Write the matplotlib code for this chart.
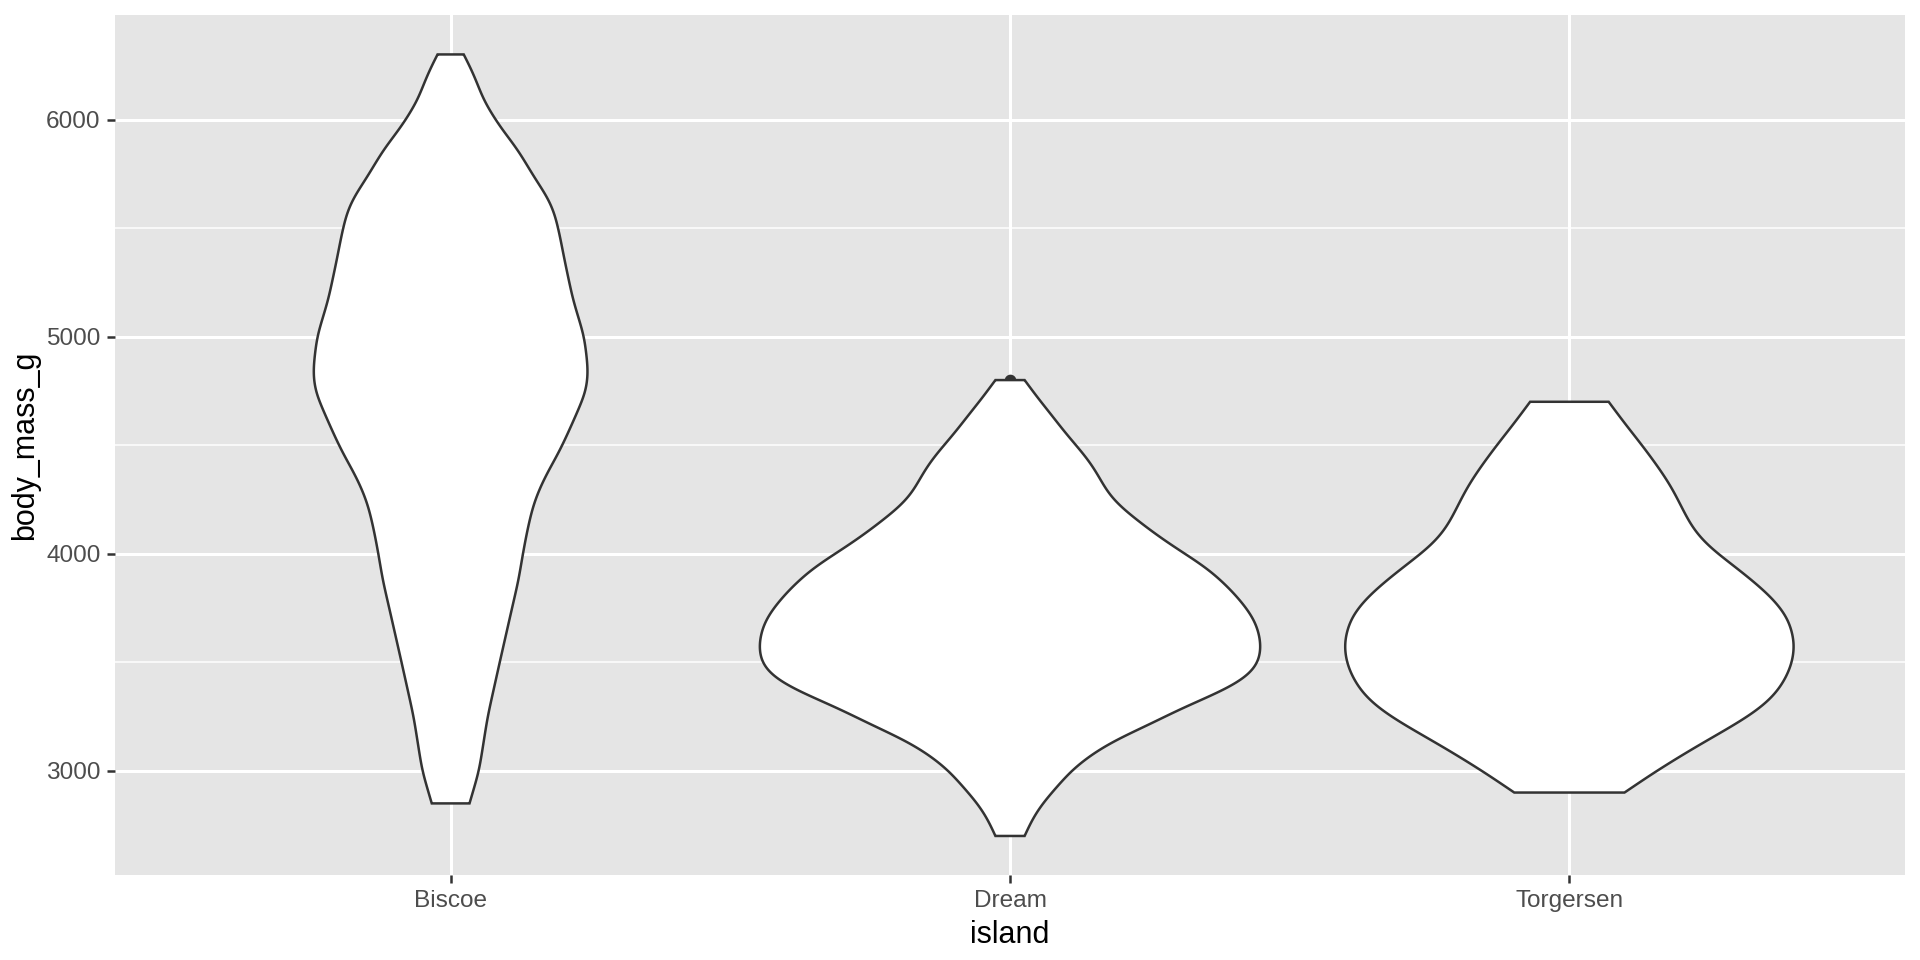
import numpy as np
import matplotlib.pyplot as plt

plt.rcParams['font.family'] = ['Liberation Sans', 'DejaVu Sans']

islands = ['Biscoe', 'Dream', 'Torgersen']

# violin outlines: mass (g) and relative density (Dream peak = 1)
biscoe_mass = [2850, 3000, 3250, 3500, 3750, 3880, 4000, 4110, 4220, 4300, 4380, 4460, 4540,
               4660, 4750, 4840, 5000, 5170, 5350, 5470, 5570, 5640, 5730, 5860, 5970,
               6090, 6170, 6240, 6300]
biscoe_density = [0.075, 0.113, 0.147, 0.195, 0.244, 0.270, 0.287, 0.305, 0.327, 0.353, 0.387,
                  0.427, 0.460, 0.506, 0.539, 0.547, 0.531, 0.486, 0.453, 0.433, 0.413, 0.387,
                  0.334, 0.268, 0.194, 0.130, 0.105, 0.079, 0.052]

dream_mass = [2700, 2780, 2850, 2920, 3000, 3045, 3120, 3180, 3230, 3270, 3340, 3410, 3480,
              3570, 3660, 3720, 3820, 3930, 4040, 4100, 4160, 4220, 4280, 4355, 4430, 4500,
              4570, 4640, 4710, 4800]
dream_density = [0.058, 0.089, 0.128, 0.182, 0.241, 0.287, 0.380, 0.486, 0.592, 0.640, 0.790,
                 0.920, 0.985, 1.0, 0.985, 0.960, 0.890, 0.790, 0.640, 0.566, 0.500, 0.433,
                 0.387, 0.354, 0.314, 0.262, 0.210, 0.165, 0.115, 0.058]

torgersen_mass = [2900, 3000, 3110, 3190, 3265, 3340, 3420, 3500, 3590, 3700, 3780, 3842,
                  3918, 3987, 4048, 4125, 4217, 4309, 4401, 4504, 4600, 4700]
torgersen_density = [0.219, 0.346, 0.501, 0.623, 0.732, 0.811, 0.858, 0.887, 0.896, 0.871,
                     0.820, 0.763, 0.683, 0.604, 0.538, 0.485, 0.445, 0.405, 0.352, 0.286,
                     0.220, 0.156]

dream_point = 4800

masses = [biscoe_mass, dream_mass, torgersen_mass]
densities = [biscoe_density, dream_density, torgersen_density]


def outline(mass, dens, step=5, sigma=45):
    # the read points are a bit noisy, so blur the drawn outline slightly
    n = int(round((mass[-1] - mass[0]) / step)) + 1
    y = np.linspace(mass[0], mass[-1], n)
    w = np.interp(y, mass, dens)
    k = int(3 * sigma / step)
    kern = np.exp(-0.5 * (np.arange(-k, k + 1) * step / sigma) ** 2)
    kern /= kern.sum()
    left = 2 * w[0] - w[k:0:-1]
    right = 2 * w[-1] - w[-2:-k - 2:-1]
    ws = np.convolve(np.concatenate([left, w, right]), kern, mode='valid')
    return y, ws


fig = plt.figure(figsize=(9.6, 4.8), dpi=200)
ax = fig.add_axes([0.0599, 0.0885, 0.9323, 0.8955])
ax.set_facecolor('#E5E5E5')
for s in ax.spines.values():
    s.set_visible(False)

ax.set_xlim(0.4, 3.6)
ax.set_ylim(2520, 6480)

for yv in [3500, 4500, 5500]:
    ax.axhline(yv, color='white', lw=0.55, zorder=0)
for yv in [3000, 4000, 5000, 6000]:
    ax.axhline(yv, color='white', lw=1.1, zorder=0)
for xv in [1, 2, 3]:
    ax.axvline(xv, color='white', lw=1.1, zorder=0)

ax.plot([2], [dream_point], 'o', color='#333333', ms=3.2, zorder=1)

for i, (m, d) in enumerate(zip(masses, densities)):
    yy, ww = outline(m, d)
    hw = ww * 0.45
    xs = np.concatenate([i + 1 - hw, (i + 1 + hw)[::-1]])
    ys = np.concatenate([yy, yy[::-1]])
    ax.fill(xs, ys, facecolor='white', edgecolor='#333333', lw=0.9, zorder=2)

ax.set_xticks([1, 2, 3])
ax.set_xticklabels(islands)
ax.set_yticks([3000, 4000, 5000, 6000])
ax.tick_params(colors='#333333', labelcolor='#4D4D4D', labelsize=8.8,
               length=2.75, width=0.9, pad=2.5)
ax.set_xlabel('island', fontsize=11, color='black', labelpad=3)
ax.set_ylabel('body_mass_g', fontsize=11, color='black', labelpad=2)

plt.savefig('out.png', dpi=200)
